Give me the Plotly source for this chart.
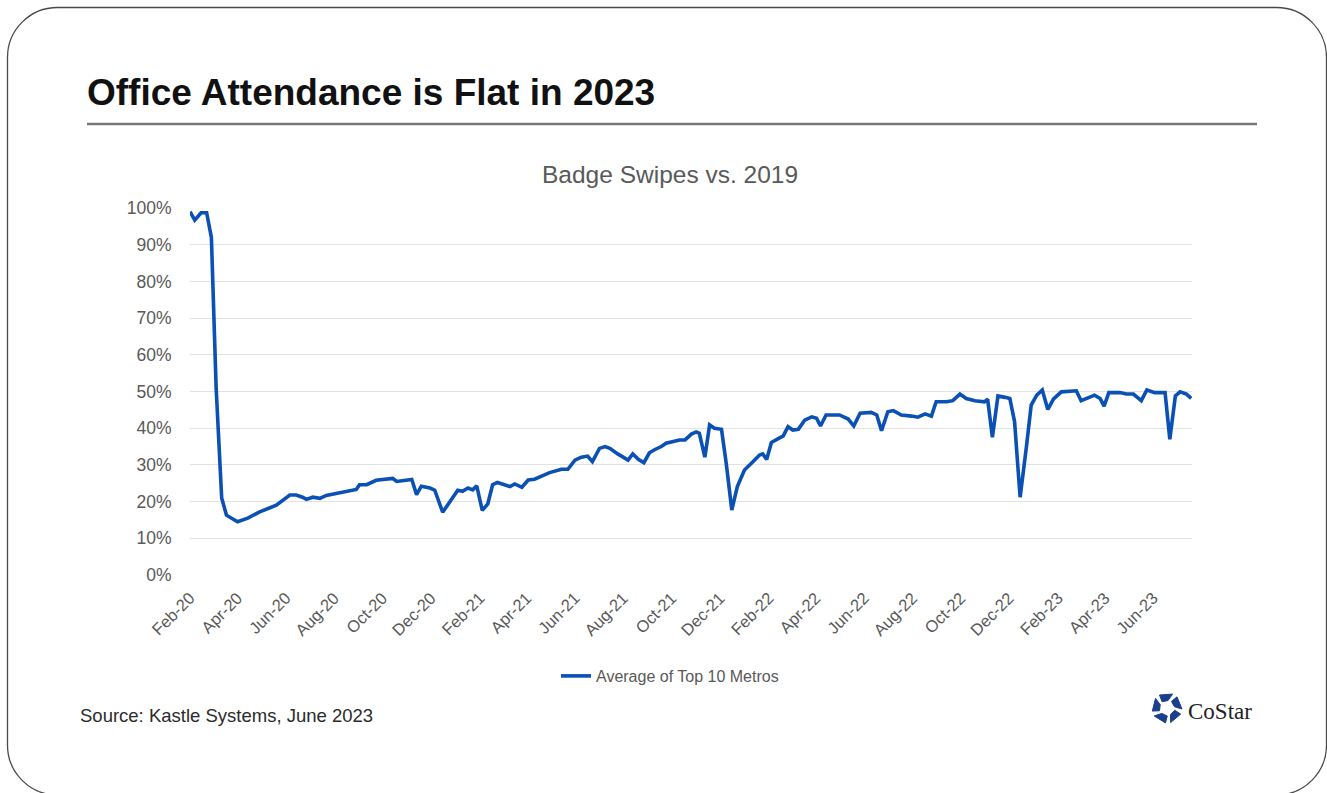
import math
import plotly.graph_objects as go

# ---------------- data ----------------
dates = [
    "2020-02-01", "2020-02-07", "2020-02-15", "2020-02-22", "2020-02-28", "2020-03-05",
    "2020-03-12", "2020-03-18", "2020-04-01", "2020-04-14", "2020-04-29", "2020-05-20",
    "2020-06-06", "2020-06-14", "2020-06-22", "2020-06-27", "2020-07-05", "2020-07-14",
    "2020-07-22", "2020-08-12", "2020-08-29", "2020-09-02", "2020-09-11", "2020-09-23",
    "2020-10-14", "2020-10-19", "2020-11-07", "2020-11-13", "2020-11-19", "2020-11-30",
    "2020-12-06", "2020-12-16", "2020-12-25", "2021-01-04", "2021-01-10", "2021-01-17",
    "2021-01-23", "2021-01-28", "2021-02-04", "2021-02-11", "2021-02-17", "2021-02-23",
    "2021-03-04", "2021-03-11", "2021-03-17", "2021-03-26", "2021-04-03", "2021-04-11",
    "2021-04-30", "2021-05-15", "2021-05-23", "2021-06-01", "2021-06-09", "2021-06-17",
    "2021-06-23", "2021-07-02", "2021-07-09", "2021-07-15", "2021-07-25", "2021-08-07",
    "2021-08-13", "2021-08-20", "2021-08-27", "2021-09-03", "2021-09-10", "2021-09-18",
    "2021-09-24", "2021-10-03", "2021-10-11", "2021-10-18", "2021-10-26", "2021-11-01",
    "2021-11-05", "2021-11-12", "2021-11-18", "2021-11-24", "2021-12-03", "2021-12-09",
    "2021-12-16", "2021-12-23", "2022-01-01", "2022-01-12", "2022-01-20", "2022-01-24",
    "2022-01-29", "2022-02-04", "2022-02-12", "2022-02-19", "2022-02-25", "2022-03-03",
    "2022-03-10", "2022-03-18", "2022-03-27", "2022-04-02", "2022-04-07", "2022-04-14",
    "2022-05-01", "2022-05-12", "2022-05-19", "2022-05-27", "2022-06-10", "2022-06-17",
    "2022-06-23", "2022-07-01", "2022-07-08", "2022-07-18", "2022-07-31", "2022-08-08",
    "2022-08-17", "2022-08-25", "2022-08-31", "2022-09-13", "2022-09-21", "2022-09-30",
    "2022-10-08", "2022-10-19", "2022-10-31", "2022-11-04", "2022-11-10", "2022-11-17",
    "2022-11-26", "2022-12-02", "2022-12-08", "2022-12-15", "2022-12-23", "2022-12-29",
    "2023-01-05", "2023-01-12", "2023-01-19", "2023-01-26", "2023-02-05", "2023-02-16",
    "2023-02-24", "2023-03-02", "2023-03-11", "2023-03-19", "2023-03-26", "2023-03-31",
    "2023-04-06", "2023-04-20", "2023-04-28", "2023-05-07", "2023-05-17", "2023-05-24",
    "2023-06-03", "2023-06-16", "2023-06-22", "2023-06-29", "2023-07-05", "2023-07-13",
    "2023-07-19",
]
swipes_pct = [
    99.0, 96.7, 98.7, 98.7, 92.0, 51.0,
    21.0, 16.3, 14.5, 15.5, 17.2, 19.0,
    21.8, 21.8, 21.2, 20.6, 21.2, 20.9,
    21.7, 22.5, 23.3, 24.6, 24.6, 25.8,
    26.3, 25.5, 26.0, 21.9, 24.2, 23.7,
    23.1, 17.1, 20.1, 23.1, 22.8, 23.7,
    23.2, 24.3, 17.6, 19.4, 24.6, 25.2,
    24.6, 24.1, 24.8, 23.9, 25.9, 26.1,
    27.9, 28.8, 28.8, 31.3, 32.1, 32.4,
    30.9, 34.5, 35.0, 34.5, 33.0, 31.3,
    33.0, 31.5, 30.6, 33.3, 34.2, 35.0,
    35.9, 36.3, 36.8, 36.8, 38.4, 39.0,
    38.6, 32.1, 40.9, 40.0, 39.7, 30.4,
    17.7, 24.1, 28.6, 30.9, 32.7, 33.0,
    31.5, 36.1, 37.0, 37.9, 40.4, 39.5,
    39.7, 42.2, 43.1, 42.7, 40.6, 43.6,
    43.6, 42.5, 40.6, 44.1, 44.3, 43.6,
    39.3, 44.5, 44.8, 43.6, 43.3, 43.0,
    43.9, 43.3, 47.2, 47.2, 47.5, 49.3,
    48.1, 47.5, 47.2, 47.9, 37.5, 48.8,
    48.4, 48.1, 41.8, 21.2, 35.0, 46.3,
    49.0, 50.4, 45.1, 47.9, 49.9, 50.2,
    50.2, 47.5, 48.4, 49.0, 48.1, 46.0,
    49.7, 49.7, 49.3, 49.3, 47.5, 50.4,
    49.7, 49.7, 37.0, 48.8, 49.9, 49.3,
    48.1,
]
series_name = "Average of Top 10 Metros"

tick_dates = [
    "2020-02-01", "2020-04-01", "2020-06-01", "2020-08-01", "2020-10-01", "2020-12-01",
    "2021-02-01", "2021-04-01", "2021-06-01", "2021-08-01", "2021-10-01", "2021-12-01",
    "2022-02-01", "2022-04-01", "2022-06-01", "2022-08-01", "2022-10-01", "2022-12-01",
    "2023-02-01", "2023-04-01", "2023-06-01",
]
tick_labels = [
    "Feb-20", "Apr-20", "Jun-20", "Aug-20", "Oct-20", "Dec-20",
    "Feb-21", "Apr-21", "Jun-21", "Aug-21", "Oct-21", "Dec-21",
    "Feb-22", "Apr-22", "Jun-22", "Aug-22", "Oct-22", "Dec-22",
    "Feb-23", "Apr-23", "Jun-23",
]

# ---------------- layout geometry ----------------
W, H = 1327, 793
PL, PR, PT, PB = 190, 1192, 208, 575   # plot area in pixels


def px(x):
    return (x - PL) / (PR - PL)


def py(y):
    return (PB - y) / (PB - PT)


def path_from(cmds):
    out = []
    for c in cmds:
        if isinstance(c, str):
            out.append(c)
        else:
            out.append(f"{px(c[0]):.5f},{py(c[1]):.5f}")
    return " ".join(out)


FONT = "Liberation Sans, Arial, sans-serif"
GRAY = "#595959"
BLUE = "#0b51b5"

fig = go.Figure()
fig.add_trace(go.Scatter(
    x=dates, y=swipes_pct, mode="lines", name=series_name,
    line=dict(color=BLUE, width=3.6),
))

# rounded slide border
x0, y0, x1, y1, R = 7.5, 7.5, 1326.5, 795, 50
k = 0.5523 * R
border = path_from([
    "M", (x0 + R, y0), "L", (x1 - R, y0),
    "C", (x1 - R + k, y0), (x1, y0 + R - k), (x1, y0 + R),
    "L", (x1, y1 - R),
    "C", (x1, y1 - R + k), (x1 - R + k, y1), (x1 - R, y1),
    "L", (x0 + R, y1),
    "C", (x0 + R - k, y1), (x0, y1 - R + k), (x0, y1 - R),
    "L", (x0, y0 + R),
    "C", (x0, y0 + R - k), (x0 + R - k, y0), (x0 + R, y0), "Z",
])
shapes = [
    dict(type="path", xref="paper", yref="paper", path=border,
         line=dict(color="#4a4a4a", width=1.3), layer="above"),
    dict(type="line", xref="paper", yref="paper",
         x0=px(87), x1=px(1257), y0=py(124), y1=py(124),
         line=dict(color="#777777", width=2.5)),
]

# CoStar logo pinwheel
cx, cy = 1167, 708
for i in range(5):
    a = math.radians(-90 + 72 * i)
    pts = []
    for ang, rad in ((-30, 15), (22, 15), (8, 7.5), (-38, 8)):
        t = a + math.radians(ang)
        pts.append((cx + rad * math.cos(t), cy + rad * math.sin(t)))
    shapes.append(dict(
        type="path", xref="paper", yref="paper",
        path=path_from(["M", pts[0], "L", pts[1], "L", pts[2], "L", pts[3], "Z"]),
        fillcolor="#1b3f8c", line=dict(color="#1b3f8c", width=1),
    ))

annotations = [
    dict(text="<b>Office Attendance is Flat in 2023</b>", x=px(85), y=py(93),
         xref="paper", yref="paper", xanchor="left", yanchor="middle", showarrow=False,
         font=dict(family=FONT, size=37, color="#111111")),
    dict(text="Badge Swipes vs. 2019", x=px(670), y=py(175),
         xref="paper", yref="paper", xanchor="center", yanchor="middle", showarrow=False,
         font=dict(family=FONT, size=24.5, color=GRAY)),
    dict(text="Source: Kastle Systems, June 2023", x=px(78), y=py(715),
         xref="paper", yref="paper", xanchor="left", yanchor="middle", showarrow=False,
         font=dict(family=FONT, size=18.5, color="#2b2b2b")),
    dict(text="CoStar", x=px(1186), y=py(711),
         xref="paper", yref="paper", xanchor="left", yanchor="middle", showarrow=False,
         font=dict(family="Liberation Serif, Times New Roman, serif", size=23, color="#222222")),
]

fig.update_layout(
    width=W, height=H, autosize=False,
    margin=dict(l=PL, r=W - PR, t=PT, b=H - PB, pad=0),
    paper_bgcolor="white", plot_bgcolor="white",
    font=dict(family=FONT, color=GRAY),
    showlegend=True,
    legend=dict(orientation="h", x=px(556), y=py(676), xanchor="left", yanchor="middle",
                font=dict(family=FONT, size=16, color=GRAY), bgcolor="rgba(0,0,0,0)"),
    shapes=shapes,
    annotations=annotations,
)
fig.update_xaxes(
    type="date", range=["2020-02-01", "2023-07-20"],
    tickvals=tick_dates, ticktext=tick_labels, tickangle=-45,
    showgrid=False, zeroline=False, showline=False,
    ticks="outside", ticklen=6, tickcolor="rgba(0,0,0,0)",
    tickfont=dict(family=FONT, size=16.5, color=GRAY),
)
fig.update_yaxes(
    range=[0, 100], dtick=10, ticksuffix="%",
    showgrid=True, gridcolor="#e2e2e2", gridwidth=1,
    zeroline=False, showline=False,
    ticks="outside", ticklen=14, tickcolor="rgba(0,0,0,0)",
    tickfont=dict(family=FONT, size=17.5, color=GRAY),
)

fig.write_html(
    "out.html",
    config={"displayModeBar": False},
    post_script="document.body.style.margin='0';document.body.style.overflow='hidden';",
)
